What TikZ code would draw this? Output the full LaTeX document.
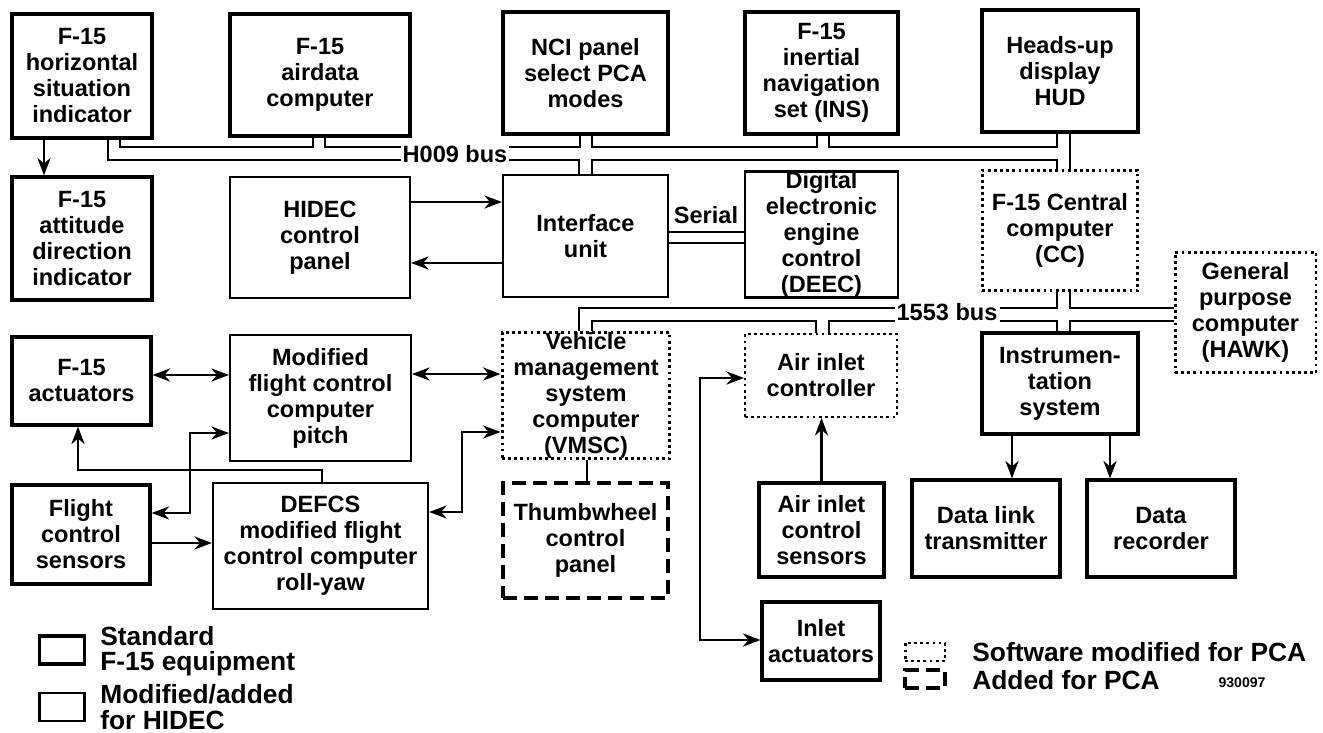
\documentclass[tikz,border=0pt]{standalone}
\usepackage{fontspec}
\setmainfont{Liberation Sans}
\usetikzlibrary{arrows.meta}

\begin{document}
\begin{tikzpicture}[x=0.02cm,y=-0.02cm,
  box/.style={align=center,inner sep=0pt,font=\fontsize{13.4}{14.8}\selectfont\bfseries},
  stdbox/.style={box,draw,line width=1.8pt},
  hidecbox/.style={box,draw,line width=1.3pt},
  swbox/.style={box,draw,line width=1.7pt,dash pattern=on 1.6pt off 1.9pt},
  addbox/.style={box,draw,line width=2.3pt,dash pattern=on 8pt off 4pt},
  bus/.style={line width=1.5pt},
  arr/.style={line width=1.4pt,-{Stealth[length=10pt,width=7.5pt]}},
  darr/.style={line width=1.4pt,{Stealth[length=10pt,width=7.5pt]}-{Stealth[length=10pt,width=7.5pt]}},
  lbl/.style={font=\fontsize{13.4}{14.8}\selectfont\bfseries,inner sep=1pt},
  legtxt/.style={font=\fontsize{15}{14.4}\selectfont\bfseries,align=left,inner sep=0pt}]
%\draw[step=50,gray,very thin] (0,0) grid (1323,733); %background grid
\useasboundingbox (0,0) rectangle (1323,733);

% top row
\node[stdbox,minimum width=2.8cm,minimum height=2.48cm] (hsi) at (82,76) {F-15\\horizontal\\situation\\indicator};
\node[stdbox,minimum width=3.6cm,minimum height=2.44cm] (adc) at (320,75) {F-15\\airdata\\computer};
\node[stdbox,minimum width=3.3cm,minimum height=2.44cm] (nci) at (585.5,73) {NCI panel\\select PCA\\modes};
\node[stdbox,minimum width=3.06cm,minimum height=2.44cm] (ins) at (821.5,73) {F-15\\inertial\\navigation\\set (INS)};
\node[stdbox,minimum width=3.12cm,minimum height=2.44cm] (hud) at (1060,71) {Heads-up\\display\\HUD};

% second row
\node[stdbox,minimum width=2.8cm,minimum height=2.46cm] (adi) at (82,238.5) {F-15\\attitude\\direction\\indicator};
\node[hidecbox,minimum width=3.6cm,minimum height=2.42cm] (hidec) at (320,237.5) {HIDEC\\control\\panel};
\node[hidecbox,minimum width=3.3cm,minimum height=2.44cm] (iu) at (585.5,236) {Interface\\unit};
\node[hidecbox,minimum width=3.06cm,minimum height=2.46cm] (deec) at (821.5,234.5) {Digital\\electronic\\engine\\control\\(DEEC)};
\node[swbox,minimum width=3.12cm,minimum height=2.42cm] (cc) at (1060,230.5) {F-15 Central\\computer\\(CC)};
\node[swbox,minimum width=2.82cm,minimum height=2.42cm] (hawk) at (1245.5,312.5) {General\\purpose\\computer\\(HAWK)};

% third row
\node[stdbox,minimum width=2.78cm,minimum height=1.76cm] (act) at (81.5,381) {F-15\\actuators};
\node[hidecbox,minimum width=3.62cm,minimum height=2.52cm] (fccp) at (320.5,398) {Modified\\flight control\\computer\\pitch};
\node[swbox,minimum width=3.36cm,minimum height=2.5cm] (vmsc) at (586,395.5) {Vehicle\\management\\system\\computer\\(VMSC)};
\node[swbox,line width=1.2pt,minimum width=3.04cm,minimum height=1.66cm] (aic) at (821,375.5) {Air inlet\\controller};
\node[stdbox,minimum width=3.12cm,minimum height=2.02cm] (instr) at (1060,383.5) {Instrumen-\\tation\\system};

% bottom row
\node[stdbox,minimum width=2.76cm,minimum height=1.98cm] (fcs) at (81,534.5) {Flight\\control\\sensors};
\node[hidecbox,minimum width=4.3cm,minimum height=2.52cm] (defcs) at (320.5,546) {DEFCS\\modified flight\\control computer\\roll-yaw};
\node[addbox,minimum width=3.3cm,minimum height=2.3cm] (tw) at (585.5,540.5) {Thumbwheel\\control\\panel};
\node[stdbox,minimum width=2.5cm,minimum height=1.88cm] (aics) at (821.5,530) {Air inlet\\control\\sensors};
\node[stdbox,minimum width=2.96cm,minimum height=1.94cm] (dlt) at (986,528.5) {Data link\\transmitter};
\node[stdbox,minimum width=2.96cm,minimum height=1.94cm] (drec) at (1161,528.5) {Data\\recorder};
\node[stdbox,minimum width=2.36cm,minimum height=1.56cm] (inact) at (821,641) {Inlet\\actuators};

% H009 bus
\node[lbl] (h009) at (455,154) {H009 bus};
\draw[bus] (120,0 |- hsi.south) -- (120,147) -- (313,147) -- (313,0 |- adc.south);
\draw[bus] (325,0 |- adc.south) -- (325,147) -- (h009.west |- 0,147);
\draw[bus] (108,0 |- hsi.south) -- (108,160) -- (h009.west |- 0,160);
\draw[bus] (h009.east |- 0,147) -- (580,147) -- (580,0 |- nci.south);
\draw[bus] (592,0 |- nci.south) -- (592,147) -- (817,147) -- (817,0 |- ins.south);
\draw[bus] (829,0 |- ins.south) -- (829,147) -- (1057,147) -- (1057,0 |- hud.south);
\draw[bus] (h009.east |- 0,160) -- (579,160) -- (579,0 |- iu.north);
\draw[bus] (592,0 |- iu.north) -- (592,160) -- (1057,160) -- (1057,0 |- cc.north);
\draw[bus] (1070,0 |- hud.south) -- (1070,0 |- cc.north);

% serial link
\node[lbl] (serial) at (706,215) {Serial};
\draw[bus] (iu.east |- 0,232) -- (deec.west |- 0,232);
\draw[bus] (iu.east |- 0,243) -- (deec.west |- 0,243);

% 1553 bus
\node[lbl] (b1553) at (947,312) {1553 bus};
\draw[bus] (579,0 |- vmsc.north) -- (579,308) -- (b1553.west |- 0,308);
\draw[bus] (592,0 |- vmsc.north) -- (592,321) -- (816,321) -- (816,0 |- aic.north);
\draw[bus] (829,0 |- aic.north) -- (829,321) -- (b1553.west |- 0,321);
\draw[bus] (b1553.east |- 0,308) -- (1057,308) -- (1057,0 |- cc.south);
\draw[bus] (1070,0 |- cc.south) -- (1070,308) -- (hawk.west |- 0,308);
\draw[bus] (b1553.east |- 0,321) -- (1057,321) -- (1057,0 |- instr.north);
\draw[bus] (1070,0 |- instr.north) -- (1070,321) -- (hawk.west |- 0,321);

% signal connections
\draw[arr] (44,0 |- hsi.south) -- (44,0 |- adi.north);
\draw[arr] (hidec.east |- 0,202) -- (iu.west |- 0,202);
\draw[arr] (iu.west |- 0,263) -- (hidec.east |- 0,263);
\draw[darr] (act.east |- 0,375) -- (fccp.west |- 0,375);
\draw[darr] (fccp.east |- 0,374) -- (vmsc.west |- 0,374);
\draw[darr] (fcs.east |- 0,513) -- (190,513) -- (190,433) -- (fccp.west |- 0,433);
\draw[arr] (322,0 |- defcs.north) -- (322,470) -- (78,470) -- (78,0 |- act.south);
\draw[arr] (fcs.east |- 0,543) -- (defcs.west |- 0,543);
\draw[darr] (defcs.east |- 0,512) -- (462,512) -- (462,432) -- (vmsc.west |- 0,432);
\draw[line width=1.4pt] (587,0 |- vmsc.south) -- (587,0 |- tw.north);
\draw[arr] (aics.north) -- (aics.north |- aic.south);
\draw[darr] (aic.west |- 0,378) -- (700,378) -- (700,640) -- (inact.west |- 0,640);
\draw[arr] (1012,0 |- instr.south) -- (1012,0 |- dlt.north);
\draw[arr] (1110,0 |- instr.south) -- (1110,0 |- drec.north);

% legend
\node[stdbox,minimum width=0.9cm,minimum height=0.56cm] (lgstd) at (62,650) {};
\node[legtxt,anchor=west] (lgstdtxt) at (100,651) {Standard\\F-15 equipment};
\node[hidecbox,minimum width=0.9cm,minimum height=0.56cm] (lghidec) at (62,707) {};
\node[legtxt,anchor=west] (lghidectxt) at (100,707) {Modified/added\\for HIDEC};
\node[swbox,minimum width=0.8cm,minimum height=0.36cm] (lgsw) at (925,652) {};
\node[legtxt,anchor=west] (lgswtxt) at (972,652) {Software modified for PCA};
\node[addbox,minimum width=0.8cm,minimum height=0.36cm] (lgadd) at (925,679) {};
\node[legtxt,anchor=west] (lgaddtxt) at (972,680) {Added for PCA};
\node[font=\fontsize{8}{9}\selectfont\bfseries] (fignum) at (1242,683) {930097};

\end{tikzpicture}
\end{document}
